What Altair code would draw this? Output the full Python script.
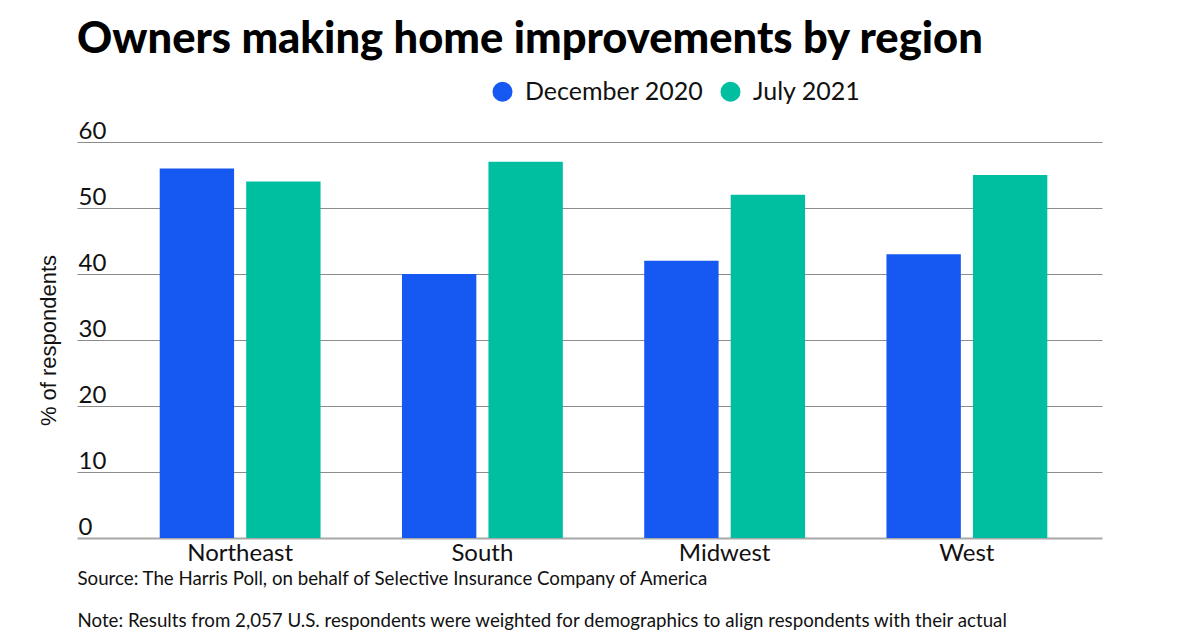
import altair as alt
import pandas as pd

regions = ["Northeast", "South", "Midwest", "West"]
periods = ["December 2020", "July 2021"]
dec_2020 = [56, 40, 42, 43]
jul_2021 = [54, 57, 52, 55]
colors = ["#1658F2", "#00BFA0"]

rows = []
for i, r in enumerate(regions):
    rows.append({"region": r, "period": periods[0], "value": dec_2020[i]})
    rows.append({"region": r, "period": periods[1], "value": jul_2021[i]})
df = pd.DataFrame(rows)

source_lines = [
    "Source: The Harris Poll, on behalf of Selective Insurance Company of America",
    "Note: Results from 2,057 U.S. respondents were weighted for demographics to align respondents with their actual",
]

chart = alt.Chart(df).mark_bar().encode(
    x=alt.X(
        "region:N",
        sort=regions,
        scale=alt.Scale(paddingInner=0.336, paddingOuter=0.2836, align=0.602),
        axis=alt.Axis(
            title=source_lines,
            labelAngle=0,
            labelFontSize=24,
            labelFont="Lato",
            labelColor="#111111",
            labelPadding=3,
            ticks=False,
            domain=False,
            titleFont="Lato",
            titleFontSize=18.7,
            titleFontWeight="normal",
            titleColor="#111111",
            titleAngle=0,
            titleAlign="left",
            titleBaseline="top",
            titleX=0,
            titleY=31,
            titleLineHeight=42,
        ),
    ),
    xOffset=alt.XOffset(
        "period:N", sort=periods, scale=alt.Scale(paddingInner=0.14, paddingOuter=0)
    ),
    y=alt.Y(
        "value:Q",
        scale=alt.Scale(domain=[0, 60]),
        axis=alt.Axis(
            title="% of respondents",
            values=[0, 10, 20, 30, 40, 50, 60],
            grid=True,
            gridColor=alt.condition("datum.value == 0", alt.value("#a8a8a8"), alt.value("#8c8c8c")),
            gridWidth=alt.condition("datum.value == 0", alt.value(2), alt.value(1.2)),
            domain=False,
            ticks=False,
            tickSize=0,
            labelAlign="left",
            labelBaseline="alphabetic",
            labelOffset=-4,
            labelPadding=-1,
            labelFontSize=24,
            labelFont="Lato",
            labelColor="#111111",
            titleFont="Liberation Sans",
            titleFontSize=22,
            titleFontWeight="normal",
            titleColor="#111111",
            titleAngle=-90,
            titleX=-29,
            titleY=198,
            titleAlign="center",
            titleBaseline="middle",
        ),
    ),
    color=alt.Color(
        "period:N",
        sort=periods,
        scale=alt.Scale(domain=periods, range=colors),
        legend=alt.Legend(
            title=None,
            orient="none",
            direction="horizontal",
            legendX=413,
            legendY=-63,
            symbolType="circle",
            symbolSize=400,
            symbolStrokeWidth=0,
            symbolOpacity=1,
            labelFont="Lato",
            labelFontSize=25,
            labelColor="#111111",
            labelOffset=10,
            labelLimit=0,
            columnPadding=14,
        ),
    ),
).properties(
    width=1025,
    height=396,
    autosize=alt.AutoSizeParams(type="none"),
    padding={"left": 69, "top": 134, "right": 90, "bottom": 110},
    title=alt.Title(
        "Owners making home improvements by region",
        anchor="start",
        frame="group",
        font="Lato",
        fontSize=43.5,
        fontWeight=900,
        color="#000000",
        dy=-13,
    ),
).configure(background="white").configure_view(stroke=None)

chart.save("out.html", embed_options={"renderer": "svg", "actions": False})
